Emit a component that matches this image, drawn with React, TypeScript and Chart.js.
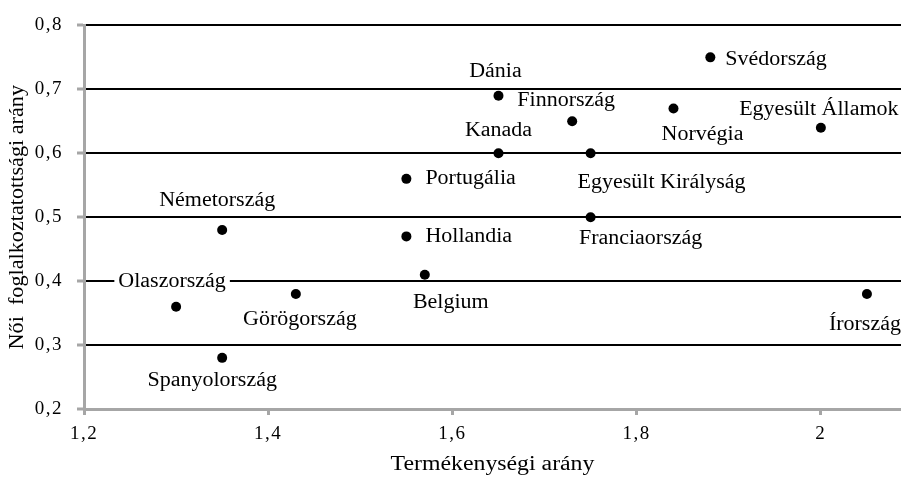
import React, { useEffect, useRef } from "react";
import { Chart, registerables } from "chart.js";

Chart.register(...registerables);

// ---- Data ----
const countries = [
  "Svédország",
  "Dánia",
  "Finnország",
  "Norvégia",
  "Egyesült Államok",
  "Kanada",
  "Egyesült Királyság",
  "Portugália",
  "Németország",
  "Hollandia",
  "Franciaország",
  "Belgium",
  "Olaszország",
  "Görögország",
  "Írország",
  "Spanyolország",
];
const fertility = [1.88, 1.65, 1.73, 1.84, 2.0, 1.65, 1.75, 1.55, 1.35, 1.55, 1.75, 1.57, 1.3, 1.43, 2.05, 1.35];
const femaleEmployment = [0.75, 0.69, 0.65, 0.67, 0.64, 0.6, 0.6, 0.56, 0.48, 0.47, 0.5, 0.41, 0.36, 0.38, 0.38, 0.28];

const xTickValues = [1.2, 1.4, 1.6, 1.8, 2.0];
const xTickLabels = ["1,2", "1,4", "1,6", "1,8", "2"];
const yTickValues = [0.2, 0.3, 0.4, 0.5, 0.6, 0.7, 0.8];
const yTickLabels = ["0,2", "0,3", "0,4", "0,5", "0,6", "0,7", "0,8"];

const xTitle = "Termékenységi arány";
const yTitle = "Női  foglalkoztatottsági arány";

// ---- Label placement (style only) ----
type Place = { align: "left" | "center"; dx: number; dy: number };
const labelPlacement: Place[] = [
  { align: "left", dx: 15, dy: 2 },
  { align: "center", dx: -3, dy: -24 },
  { align: "center", dx: -6, dy: -21 },
  { align: "center", dx: 29, dy: 26 },
  { align: "center", dx: -2, dy: -18 },
  { align: "center", dx: 0, dy: -23 },
  { align: "center", dx: 71, dy: 29 },
  { align: "left", dx: 19, dy: 0 },
  { align: "center", dx: -5, dy: -29 },
  { align: "left", dx: 19, dy: 0 },
  { align: "center", dx: 50, dy: 22 },
  { align: "center", dx: 26, dy: 28 },
  { align: "center", dx: -4, dy: -25 },
  { align: "center", dx: 4, dy: 26 },
  { align: "center", dx: -2, dy: 31 },
  { align: "center", dx: -10, dy: 23 },
];

const FONT = '"Liberation Serif", "Times New Roman", serif';
const AXIS_GREY = "#a6a6a6";

function drawText(
  ctx: CanvasRenderingContext2D,
  text: string,
  x: number,
  y: number,
  align: CanvasTextAlign,
  size: number,
  sx: number,
  rot = 0
) {
  ctx.save();
  ctx.translate(x, y);
  if (rot) ctx.rotate(rot);
  ctx.scale(sx, 1);
  ctx.font = `${size}px ${FONT}`;
  ctx.textAlign = align;
  ctx.textBaseline = "middle";
  ctx.fillStyle = "#000";
  ctx.fillText(text, 0, 0);
  ctx.restore();
}

const spacing = {
  id: "spacing",
  beforeDraw(chart: any) {
    chart.ctx.letterSpacing = "1.5px";
  },
};

const textLayer = {
  id: "textLayer",
  afterDatasetsDraw(chart: any) {
    const ctx = chart.ctx as CanvasRenderingContext2D;
    const meta = chart.getDatasetMeta(0);
    const area = chart.chartArea;
    (ctx as any).letterSpacing = "0px";
    const SX = 1.1;
    const SIZE = 20;
    meta.data.forEach((el: any, i: number) => {
      const p = labelPlacement[i];
      const text = countries[i];
      const tx = el.x + p.dx;
      const ty = el.y + p.dy;
      ctx.save();
      ctx.font = `${SIZE}px ${FONT}`;
      const w = ctx.measureText(text).width * SX;
      ctx.restore();
      const left = p.align === "left" ? tx : tx - w / 2;
      ctx.save();
      ctx.fillStyle = "#ffffff";
      ctx.fillRect(left - 4, ty - 8, w + 8, 16);
      ctx.restore();
      drawText(ctx, text, tx, ty, p.align, SIZE, SX);
    });
    // axis titles
    drawText(ctx, xTitle, (area.left + area.right) / 2, chart.height - 12, "center", 20, 1.19);
    drawText(ctx, yTitle, 17.5, (area.top + area.bottom) / 2, "center", 20, 1.11, -Math.PI / 2);
  },
};

export default function App() {
  const canvasRef = useRef<HTMLCanvasElement | null>(null);

  useEffect(() => {
    document.body.style.margin = "0";
    document.body.style.overflow = "hidden";
    const canvas = canvasRef.current;
    if (!canvas) return;
    Chart.defaults.font.family = FONT;
    Chart.defaults.color = "#000";

    const chart = new Chart(canvas, {
      type: "scatter",
      data: {
        datasets: [
          {
            data: fertility.map((x, i) => ({ x, y: femaleEmployment[i] })),
            backgroundColor: "#000",
            borderWidth: 0,
            pointRadius: 5,
            pointHoverRadius: 5,
          },
        ],
      },
      options: {
        responsive: false,
        animation: false,
        devicePixelRatio: 1,
        events: [],
        layout: { autoPadding: false, padding: { top: 25, left: 0, right: 0, bottom: 0 } },
        plugins: {
          legend: { display: false },
          tooltip: { enabled: false },
        },
        scales: {
          x: {
            type: "linear",
            min: 1.2,
            max: 2.087,
            afterBuildTicks: (scale: any) => {
              scale.ticks = xTickValues.map((v) => ({ value: v }));
            },
            afterFit: (scale: any) => {
              scale.height = 68;
            },
            ticks: {
              font: { size: 19, family: FONT },
              color: "#000",
              padding: 8,
              maxRotation: 0,
              autoSkip: false,
              callback: (_v: any, i: number) => xTickLabels[i],
            },
            grid: {
              display: true,
              drawOnChartArea: false,
              drawTicks: true,
              tickLength: 6,
              tickWidth: 3,
              tickColor: AXIS_GREY,
            },
            border: { display: true, color: AXIS_GREY, width: 3 },
            title: { display: false, text: xTitle },
          },
          y: {
            type: "linear",
            min: 0.2,
            max: 0.8,
            afterBuildTicks: (scale: any) => {
              scale.ticks = yTickValues.map((v) => ({ value: v }));
            },
            afterFit: (scale: any) => {
              scale.width = 84;
            },
            ticks: {
              font: { size: 19, family: FONT },
              color: "#000",
              padding: 14,
              autoSkip: false,
              callback: (_v: any, i: number) => yTickLabels[i],
            },
            grid: {
              display: true,
              drawOnChartArea: true,
              drawTicks: true,
              tickLength: 7,
              tickWidth: 3,
              tickColor: AXIS_GREY,
              lineWidth: 2,
              color: (c: any) => (c.index === 0 ? "rgba(0,0,0,0)" : "#000"),
            },
            border: { display: true, color: AXIS_GREY, width: 3 },
            title: { display: false, text: yTitle },
          },
        },
      },
      plugins: [spacing, textLayer],
    } as any);

    return () => {
      chart.destroy();
    };
  }, []);

  return (
    <div style={{ width: 901, height: 477, overflow: "hidden" }}>
      <canvas ref={canvasRef} width={901} height={477} style={{ display: "block" }} />
    </div>
  );
}
